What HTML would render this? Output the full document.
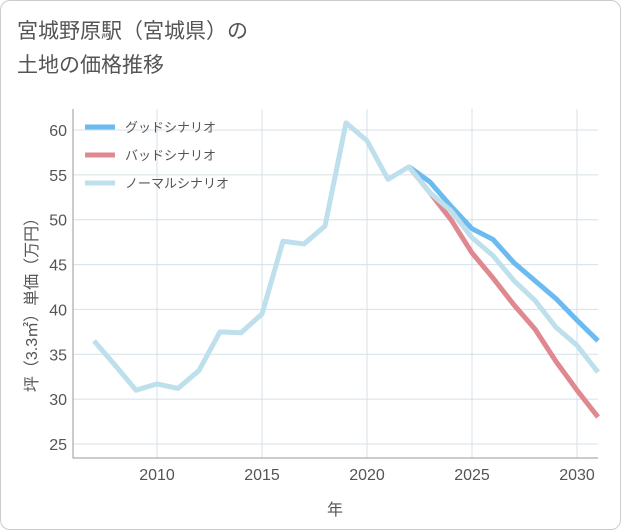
<!DOCTYPE html>
<html><head><meta charset="utf-8"><style>
body{margin:0;background:#fff;}
#wrap{position:relative;width:619px;height:528px;border:1px solid #ccc;border-radius:10px;background:#fff;overflow:hidden;font-family:"Liberation Sans","Noto Sans CJK JP",sans-serif;}
#title{position:absolute;left:16px;top:14px;font-size:21px;line-height:34px;color:#555;}
svg{position:absolute;left:0;top:0;}
</style></head><body>
<div id="wrap">
<div id="title">宮城野原駅（宮城県）の<br>土地の価格推移</div>
<svg id="chart" width="621" height="530"></svg>
</div>
<script>
const years=[2007,2008,2009,2010,2011,2012,2013,2014,2015,2016,2017,2018,2019,2020,2021,2022,2023,2024,2025,2026,2027,2028,2029,2030,2031];
const normal=[36.5,33.8,31.0,31.7,31.2,33.2,37.5,37.4,39.5,47.6,47.3,49.3,60.8,58.8,54.5,55.9,53.0,51.0,48.0,46.0,43.2,41.0,38.0,36.0,33.0];
const goodYears=[2022,2023,2024,2025,2026,2027,2028,2029,2030,2031];
const good=[55.9,54.2,51.5,49.0,47.8,45.2,43.2,41.2,38.8,36.5];
const bad=[55.9,53.0,50.0,46.3,43.5,40.5,37.8,34.2,31.0,28.0];
const yTicks=[25,30,35,40,45,50,55,60];
const xTicks=[2010,2015,2020,2025,2030];
const NS='http://www.w3.org/2000/svg';
const svg=document.getElementById('chart');
const L=72,R=597,T=108,B=457;
const x=yr=>156+(yr-2010)*21;
const y=v=>129+(60-v)*(314/35);
function mk(tag,attrs,parent){const e=document.createElementNS(NS,tag);for(const k in attrs)e.setAttribute(k,attrs[k]);(parent||svg).appendChild(e);return e;}
const bg=mk('rect',{x:L,y:T,width:R-L,height:B-T,fill:'#fff'});


yTicks.forEach(v=>{
 const g=mk('line',{x1:L,x2:R,y1:y(v),y2:y(v),stroke:'#d5e0e8','stroke-width':1});
 
 
 const t=mk('text',{x:66,y:y(v)+6,'text-anchor':'end','font-size':16,fill:'#555'});
 t.textContent=v;
 
 
});
xTicks.forEach(v=>{
 const g=mk('line',{x1:x(v),x2:x(v),y1:T,y2:B,stroke:'#d5e0e8','stroke-width':1});
 
 
 const t=mk('text',{x:x(v),y:479,'text-anchor':'middle','font-size':16,fill:'#555'});
 t.textContent=v;
 
 
});
const ax=mk('path',{d:`M${L},${T} V${B} H${R}`,stroke:'#999',fill:'none','stroke-width':1});


function line(xs,vs,color,name){
 const p=mk('polyline',{points:xs.map((yr,i)=>x(yr)+','+y(vs[i])).join(' '),fill:'none',stroke:color,'stroke-width':5,'stroke-linejoin':'round'});
 
 
}
line(goodYears,good,'#6cbbf0','good-scenario-line');
line(goodYears,bad,'#e08890','bad-scenario-line');
line(years,normal,'#bde0ec','normal-scenario-line');
const leg=[['グッドシナリオ','#6cbbf0'],['バッドシナリオ','#e08890'],['ノーマルシナリオ','#bde0ec']];
leg.forEach((l,i)=>{
 const g=mk('g',{});
 
 
 const ly=126+i*28;
 mk('line',{x1:84,x2:114,y1:ly,y2:ly,stroke:l[1],'stroke-width':5},g);
 const t=mk('text',{x:124,y:ly+5,'font-size':13,fill:'#555'},g);
 t.textContent=l[0];
});
const xt=mk('text',{x:334,y:514,'text-anchor':'middle','font-size':16,fill:'#555'});
xt.textContent='年';


const yt=mk('text',{x:0,y:0,'text-anchor':'middle','font-size':16,fill:'#555',transform:'translate(36,300) rotate(-90)'});
yt.textContent='坪（3.3㎡）単価（万円）';


</script>
</body></html>
